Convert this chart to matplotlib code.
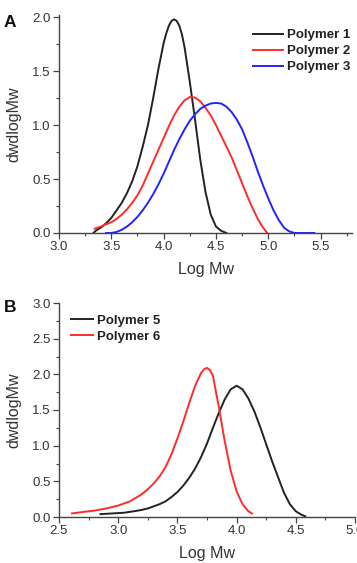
import numpy as np
import matplotlib.pyplot as plt
from matplotlib.ticker import MultipleLocator

plt.rcParams['font.family'] = ['Liberation Sans', 'DejaVu Sans']

# panel A: polymers 1-3
p1_x = [3.33, 3.35, 3.40, 3.45, 3.50, 3.55, 3.60, 3.65, 3.70, 3.75, 3.80, 3.85, 3.90,
        3.95, 4.00, 4.025, 4.05, 4.075, 4.10, 4.125, 4.15, 4.175, 4.20, 4.25, 4.30,
        4.35, 4.40, 4.45, 4.50, 4.55, 4.60]
p1_y = [0.00, 0.02, 0.05, 0.09, 0.14, 0.21, 0.28, 0.37, 0.48, 0.62, 0.80, 1.00, 1.25,
        1.52, 1.76, 1.85, 1.92, 1.965, 1.98, 1.965, 1.92, 1.84, 1.72, 1.40, 1.05,
        0.68, 0.38, 0.17, 0.06, 0.02, 0.00]
p2_x = [3.34, 3.40, 3.45, 3.50, 3.55, 3.60, 3.65, 3.70, 3.75, 3.80, 3.85, 3.90, 3.95,
        4.00, 4.05, 4.10, 4.15, 4.20, 4.25, 4.30, 4.35, 4.40, 4.45, 4.50, 4.55, 4.60,
        4.65, 4.70, 4.75, 4.80, 4.85, 4.90, 4.95, 4.99]
p2_y = [0.04, 0.06, 0.08, 0.10, 0.13, 0.17, 0.22, 0.28, 0.35, 0.44, 0.55, 0.66, 0.77,
        0.88, 0.99, 1.09, 1.17, 1.23, 1.26, 1.255, 1.22, 1.16, 1.09, 1.00, 0.90, 0.80,
        0.70, 0.58, 0.46, 0.34, 0.23, 0.13, 0.05, 0.00]
p3_x = [3.45, 3.50, 3.55, 3.60, 3.65, 3.70, 3.75, 3.80, 3.85, 3.90, 3.95, 4.00, 4.05,
        4.10, 4.15, 4.20, 4.25, 4.30, 4.35, 4.40, 4.45, 4.50, 4.55, 4.60, 4.65, 4.70,
        4.75, 4.80, 4.85, 4.90, 4.95, 5.00, 5.05, 5.10, 5.15, 5.20, 5.25, 5.44]
p3_y = [0.00, 0.00, 0.01, 0.03, 0.06, 0.10, 0.15, 0.21, 0.28, 0.36, 0.45, 0.55, 0.66,
        0.77, 0.87, 0.96, 1.04, 1.10, 1.15, 1.18, 1.20, 1.205, 1.20, 1.17, 1.12, 1.05,
        0.96, 0.84, 0.71, 0.57, 0.44, 0.32, 0.21, 0.12, 0.05, 0.015, 0.00, 0.00]

# panel B: polymers 5-6
p5_x = [2.85, 2.95, 3.05, 3.15, 3.20, 3.25, 3.30, 3.35, 3.40, 3.45, 3.50, 3.55, 3.60,
        3.65, 3.70, 3.75, 3.80, 3.85, 3.90, 3.95, 4.00, 4.05, 4.10, 4.15, 4.20, 4.25,
        4.30, 4.35, 4.40, 4.45, 4.50, 4.55, 4.58]
p5_y = [0.04, 0.05, 0.06, 0.085, 0.10, 0.12, 0.15, 0.18, 0.22, 0.28, 0.35, 0.44, 0.55,
        0.68, 0.84, 1.03, 1.25, 1.46, 1.65, 1.79, 1.84, 1.79, 1.66, 1.48, 1.26, 1.02,
        0.78, 0.56, 0.34, 0.18, 0.08, 0.03, 0.01]
p6_x = [2.61, 2.70, 2.80, 2.90, 3.00, 3.05, 3.10, 3.15, 3.20, 3.25, 3.30, 3.35, 3.40,
        3.45, 3.50, 3.55, 3.60, 3.65, 3.70, 3.725, 3.75, 3.775, 3.80, 3.85, 3.90, 3.95,
        4.00, 4.05, 4.10, 4.13]
p6_y = [0.05, 0.07, 0.09, 0.12, 0.16, 0.19, 0.22, 0.27, 0.32, 0.39, 0.47, 0.57, 0.70,
        0.88, 1.10, 1.34, 1.60, 1.84, 2.02, 2.07, 2.09, 2.06, 1.98, 1.54, 1.06, 0.65,
        0.36, 0.18, 0.08, 0.05]

black = '#222222'
red = '#ff2b2b'
blue = '#2222ff'
txt = '#333333'

fig = plt.figure(figsize=(3.57, 5.63), dpi=100)
axA = fig.add_axes([59/357, 330/563, 293/357, 218/563])
axB = fig.add_axes([59/357, 46/563, 296/357, 214/563])


def style(ax, xlim, ylim, ymaj):
    ax.set_xlim(*xlim)
    ax.set_ylim(*ylim)
    ax.spines['top'].set_visible(False)
    ax.spines['right'].set_visible(False)
    for s in ('left', 'bottom'):
        ax.spines[s].set_color('#444444')
        ax.spines[s].set_linewidth(1.0)
    ax.xaxis.set_major_locator(MultipleLocator(0.5))
    ax.xaxis.set_minor_locator(MultipleLocator(0.25))
    ax.yaxis.set_major_locator(MultipleLocator(ymaj))
    ax.yaxis.set_minor_locator(MultipleLocator(ymaj / 2))
    ax.tick_params(which='major', direction='out', length=4, width=0.9,
                   color='#444444', labelsize=9.5, labelcolor=txt, pad=2)
    ax.tick_params(which='minor', direction='out', length=2, width=0.8, color='#444444')
    ax.xaxis.set_major_formatter(plt.FormatStrFormatter('%.1f'))
    ax.yaxis.set_major_formatter(plt.FormatStrFormatter('%.1f'))
    ax.set_xlabel('Log Mw', fontsize=11.5, color=txt, labelpad=6)
    ax.set_ylabel('dwdlogMw', fontsize=11.5, color=txt, labelpad=8)


axA.plot(p1_x, p1_y, color=black, lw=1.4, label='Polymer 1')
axA.plot(p2_x, p2_y, color=red, lw=1.4, label='Polymer 2')
axA.plot(p3_x, p3_y, color=blue, lw=1.4, label='Polymer 3')
style(axA, (3.0, 5.8), (0, 2.02), 0.5)
axA.legend(loc='upper right', bbox_to_anchor=(1.035, 0.99), frameon=False,
           handlelength=2.3, handletextpad=0.3, labelspacing=0.28,
           prop={'weight': 'bold', 'size': 9.5}, labelcolor=black)

axB.plot(p5_x, p5_y, color=black, lw=1.4, label='Polymer 5')
axB.plot(p6_x, p6_y, color=red, lw=1.4, label='Polymer 6')
style(axB, (2.5, 5.0), (0, 3.0), 0.5)
axB.legend(loc='upper left', bbox_to_anchor=(0.0, 1.0), frameon=False,
           handlelength=1.7, handletextpad=0.3, labelspacing=0.28,
           prop={'weight': 'bold', 'size': 9.5}, labelcolor=black)

fig.text(4/357, 1 - 27/563, 'A', fontsize=12.5, fontweight='bold', color='#111111',
         va='baseline')
fig.text(4/357, 1 - 312/563, 'B', fontsize=12.5, fontweight='bold', color='#111111',
         va='baseline')

fig.savefig('out.png', dpi=100)
